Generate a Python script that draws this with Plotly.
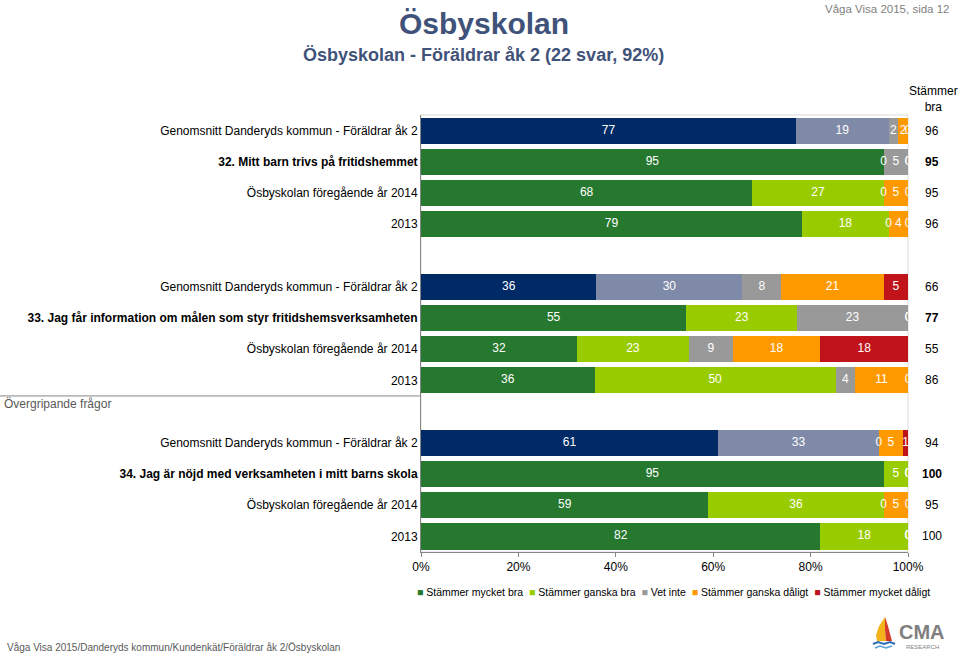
import plotly.graph_objects as go

# ---------------- data ----------------
row_labels = [
    "Genomsnitt Danderyds kommun - Föräldrar åk 2",
    "32. Mitt barn trivs på fritidshemmet",
    "Ösbyskolan föregående år 2014",
    "2013",
    "Genomsnitt Danderyds kommun - Föräldrar åk 2",
    "33. Jag får information om målen som styr fritidshemsverksamheten",
    "Ösbyskolan föregående år 2014",
    "2013",
    "Genomsnitt Danderyds kommun - Föräldrar åk 2",
    "34. Jag är nöjd med verksamheten i mitt barns skola",
    "Ösbyskolan föregående år 2014",
    "2013",
]
row_kind = ["avg", "q", "prev", "prev"] * 3

series_names = ["Stämmer mycket bra", "Stämmer ganska bra", "Vet inte",
                "Stämmer ganska dåligt", "Stämmer mycket dåligt"]
mycket_bra = [77, 95, 68, 79, 36, 55, 32, 36, 61, 95, 59, 82]
ganska_bra = [19, 0, 27, 18, 30, 23, 23, 50, 33, 5, 36, 18]
vet_inte = [2, 5, 0, 0, 8, 23, 9, 4, 0, 0, 0, 0]
ganska_daligt = [2, 0, 5, 4, 21, 0, 18, 11, 5, 0, 5, 0]
mycket_daligt = [0, 0, 0, 0, 5, 0, 18, 0, 1, 0, 0, 0]
stammer_bra = [96, 95, 95, 96, 66, 77, 55, 86, 94, 100, 95, 100]

x_ticks = [0, 20, 40, 60, 80, 100]
x_tick_labels = ["0%", "20%", "40%", "60%", "80%", "100%"]

# ---------------- style ----------------
school_colors = ["#26782F", "#99CC00", "#999999", "#FF9900", "#C0141A"]
avg_colors = ["#002A66", "#7F8AA8", "#999999", "#FF9900", "#C0141A"]
title_color = "#3F5279"
FONT = "Liberation Sans, Arial, sans-serif"

positions = [0, 1, 2, 3, 5, 6, 7, 8, 10, 11, 12, 13]

# plot area in pixels
PL, PR, PT, PB = 421, 908, 115, 552


def px(x):
    return (x - PL) / (PR - PL)


def py(y):
    return (PB - y) / (PB - PT)


series = [mycket_bra, ganska_bra, vet_inte, ganska_daligt, mycket_daligt]
row_sums = [sum(s[i] for s in series) for i in range(len(row_labels))]
shares = [[s[i] * 100.0 / row_sums[i] for i in range(len(row_labels))] for s in series]

fig = go.Figure()

for k, name in enumerate(series_names):
    colors = [avg_colors[k] if kind == "avg" else school_colors[k] for kind in row_kind]
    fig.add_trace(go.Bar(
        name=name, orientation="h", x=shares[k], y=positions, width=0.84,
        marker=dict(color=colors, line=dict(width=0)), showlegend=False,
        hoverinfo="skip",
    ))

# segment labels
lx, ly, lt = [], [], []
for i in range(len(row_labels)):
    cum = 0.0
    for k in range(len(series)):
        lx.append(cum + shares[k][i] / 2.0)
        ly.append(positions[i])
        lt.append(str(series[k][i]))
        cum += shares[k][i]
fig.add_trace(go.Scatter(
    x=lx, y=ly, text=lt, mode="text", textposition="middle center",
    textfont=dict(family=FONT, size=12, color="white"),
    cliponaxis=True, showlegend=False, hoverinfo="skip",
))

ticktext = [("<b>%s</b>" % lab) if kind == "q" else lab for lab, kind in zip(row_labels, row_kind)]

annotations = []
# Stämmer bra column
annotations.append(dict(xref="paper", yref="paper", x=px(933), y=py(99), text="Stämmer<br>bra",
                        showarrow=False, xanchor="center", yanchor="middle",
                        font=dict(family=FONT, size=12, color="black")))
for i, v in enumerate(stammer_bra):
    t = ("<b>%d</b>" % v) if row_kind[i] == "q" else str(v)
    annotations.append(dict(xref="paper", yref="y", x=px(932), y=positions[i], text=t,
                            showarrow=False, xanchor="center", yanchor="middle",
                            font=dict(family=FONT, size=12, color="black")))

# titles
annotations.append(dict(xref="paper", yref="paper", x=px(484), y=py(24), text="<b>Ösbyskolan</b>",
                        showarrow=False, xanchor="center", yanchor="middle",
                        font=dict(family=FONT, size=30, color=title_color)))
annotations.append(dict(xref="paper", yref="paper", x=px(483), y=py(55),
                        text="<b>Ösbyskolan - Föräldrar åk 2 (22 svar, 92%)</b>",
                        showarrow=False, xanchor="center", yanchor="middle",
                        font=dict(family=FONT, size=18, color=title_color)))
annotations.append(dict(xref="paper", yref="paper", x=px(951), y=py(9), text="Våga Visa 2015, sida 12",
                        showarrow=False, xanchor="right", yanchor="middle",
                        font=dict(family=FONT, size=11.5, color="#7F7F7F")))
annotations.append(dict(xref="paper", yref="paper", x=px(5), y=py(647),
                        text="Våga Visa 2015/Danderyds kommun/Kundenkät/Föräldrar åk 2/Ösbyskolan",
                        showarrow=False, xanchor="left", yanchor="middle",
                        font=dict(family=FONT, size=10, color="#595959")))
# outer category label
annotations.append(dict(xref="paper", yref="paper", x=px(2), y=py(404), text="Övergripande frågor",
                        showarrow=False, xanchor="left", yanchor="middle",
                        font=dict(family=FONT, size=12, color="#595959")))

# legend (compact, as in the reference)
nb = "\u00a0"
legend_parts = []
for name, col in zip(series_names, school_colors):
    legend_parts.append("<span style='color:%s'>■</span>%s%s" % (col, nb, name))
legend_text = (nb * 2).join(legend_parts)
annotations.append(dict(xref="paper", yref="paper", x=px(673), y=py(592), text=legend_text,
                        showarrow=False, xanchor="center", yanchor="middle",
                        font=dict(family=FONT, size=10.5, color="black")))

# logo text
annotations.append(dict(xref="paper", yref="paper", x=px(922), y=py(632), text="<b>CMA</b>",
                        showarrow=False, xanchor="center", yanchor="middle",
                        font=dict(family=FONT, size=20, color="#7F7F7F")))
annotations.append(dict(xref="paper", yref="paper", x=px(922), y=py(647), text="RESEARCH",
                        showarrow=False, xanchor="center", yanchor="middle",
                        font=dict(family=FONT, size=6, color="#7F7F7F")))


def path(points, close=True):
    s = "M %.4f %.4f " % (px(points[0][0]), py(points[0][1]))
    for p in points[1:]:
        s += "L %.4f %.4f " % (px(p[0]), py(p[1]))
    return s + ("Z" if close else "")


shapes = [
    # light border of the plot area
    dict(type="rect", xref="paper", yref="paper", x0=0, x1=1, y0=0, y1=1,
         line=dict(color="#D9D9D9", width=1), layer="below"),
    # divider line in the category axis
    dict(type="line", xref="paper", yref="y", x0=px(0), x1=0, y0=8.5, y1=8.5,
         line=dict(color="#868686", width=1)),
    # logo sail
    dict(type="path", xref="paper", yref="paper",
         path=path([(885, 617), (879, 626), (876, 635), (877, 641), (886, 641), (885, 630)]),
         fillcolor="#F2B31B", line=dict(width=0)),
    dict(type="path", xref="paper", yref="paper",
         path=path([(885, 617), (888, 626), (892, 641), (886, 641), (885, 630)]),
         fillcolor="#D43A2A", line=dict(width=0)),
    dict(type="path", xref="paper", yref="paper",
         path=path([(873, 644), (878, 642), (884, 644), (890, 642), (895, 644)], close=False),
         line=dict(color="#2D6DB5", width=2)),
    dict(type="path", xref="paper", yref="paper",
         path=path([(875, 648), (880, 646), (886, 648), (892, 646)], close=False),
         line=dict(color="#5AA0D8", width=1.5)),
]

fig.update_layout(
    width=959, height=655,
    margin=dict(l=PL, r=959 - PR, t=PT, b=655 - PB),
    barmode="stack",
    plot_bgcolor="white", paper_bgcolor="white",
    font=dict(family=FONT, size=12, color="black"),
    annotations=annotations,
    shapes=shapes,
    showlegend=False,
)
fig.update_xaxes(range=[0, 100], tickvals=x_ticks, ticktext=x_tick_labels,
                 ticks="outside", ticklen=4, tickcolor="#868686",
                 showline=True, linecolor="#868686", linewidth=1,
                 showgrid=False, zeroline=False, fixedrange=True,
                 tickfont=dict(family=FONT, size=12, color="black"))
fig.update_yaxes(range=[13.5, -0.5], tickvals=positions, ticktext=ticktext,
                 ticks="", showline=True, linecolor="#868686", linewidth=1,
                 showgrid=False, zeroline=False, fixedrange=True,
                 tickfont=dict(family=FONT, size=12, color="black"))

fig.write_html("out.html", config={"displayModeBar": False},
               post_script="document.body.style.margin='0';document.body.style.overflow='hidden';")
